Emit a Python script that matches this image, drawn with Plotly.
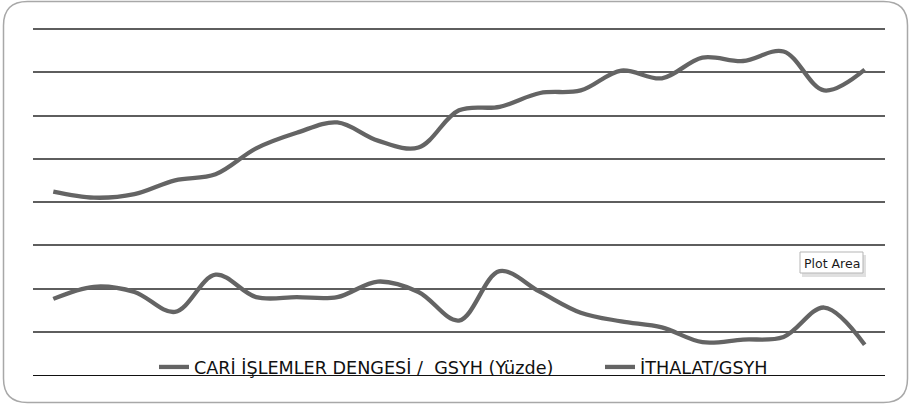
import plotly.graph_objects as go

years = [str(y) for y in range(1990, 2011)]
ithalat_gsyh = [11.2, 10.5, 10.9, 12.5, 13.2, 16.2, 18.0, 19.2, 17.1, 16.3, 20.6,
                21.0, 22.6, 22.9, 25.2, 24.3, 26.7, 26.3, 27.4, 22.9, 25.3]
cari_gsyh = [-1.2, 0.2, -0.4, -2.7, 1.6, -1.0, -1.0, -1.0, 0.8, -0.4, -3.7,
             2.0, -0.4, -2.8, -3.8, -4.5, -6.2, -5.9, -5.6, -2.2, -6.5]

W, H = 910, 406
ML, MR, MT, MB = 33, 25, 27, 31
PW, PH = W - ML - MR, H - MT - MB
Y_TOP = -10 + PH / 8.65  # keeps 5-unit grid spacing at ~43 px, top gridline inside the plot

def px(x, y):
    return (x - ML) / PW, (H - MB - y) / PH

LINE = "#646464"

fig = go.Figure()
fig.add_trace(go.Scatter(x=years, y=cari_gsyh, mode="lines",
                         name="CARİ İŞLEMLER DENGESİ /\u00a0 GSYH (Yüzde)", legend="legend",
                         line=dict(color=LINE, width=4.3, shape="spline", smoothing=1.0)))
fig.add_trace(go.Scatter(x=years, y=ithalat_gsyh, mode="lines",
                         name="İTHALAT/GSYH", legend="legend2",
                         line=dict(color=LINE, width=4.3, shape="spline", smoothing=1.0)))

# rounded outer frame
l, r, t, b, rad = 3.5, 907.5, 1.5, 402.5, 24
def P(x, y):
    a, c = px(x, y)
    return f"{a:.5f},{c:.5f}"
path = (f"M {P(l + rad, t)} L {P(r - rad, t)} Q {P(r, t)} {P(r, t + rad)} "
        f"L {P(r, b - rad)} Q {P(r, b)} {P(r - rad, b)} "
        f"L {P(l + rad, b)} Q {P(l, b)} {P(l, b - rad)} "
        f"L {P(l, t + rad)} Q {P(l, t)} {P(l + rad, t)} Z")
fig.add_shape(type="path", path=path, xref="paper", yref="paper",
              line=dict(color="#a8a8a8", width=1.5), layer="below")

# tooltip shadow + tooltip
x0, y0 = px(800, 252)
x1, y1 = px(863, 273)
sx0, sy0 = px(802, 255)
sx1, sy1 = px(866, 277)
fig.add_shape(type="rect", xref="paper", yref="paper", x0=sx0, y0=sy0, x1=sx1, y1=sy1,
              fillcolor="rgba(0,0,0,0.12)", line=dict(width=0))
fig.add_shape(type="rect", xref="paper", yref="paper", x0=x0, y0=y0, x1=x1, y1=y1,
              fillcolor="white", line=dict(color="#b5b5b5", width=1))
cx, cy = px(832, 263)
fig.add_annotation(x=cx, y=cy, xref="paper", yref="paper", text="Plot Area",
                   showarrow=False, font=dict(family="DejaVu Sans", size=12.5, color="#1a1a1a"),
                   xanchor="center", yanchor="middle")

legfont = dict(family="DejaVu Sans", size=17.6, color="#111111")
l1x, l1y = px(154, 367)
l2x, l2y = px(600, 367)
fig.update_layout(
    width=W, height=H,
    margin=dict(l=ML, r=MR, t=MT, b=MB, pad=0),
    paper_bgcolor="white", plot_bgcolor="white",
    showlegend=True,
    legend=dict(orientation="h", x=l1x, y=l1y, xanchor="left", yanchor="middle",
                bgcolor="rgba(0,0,0,0)", font=legfont, itemwidth=30),
    legend2=dict(orientation="h", x=l2x, y=l2y, xanchor="left", yanchor="middle",
                 bgcolor="rgba(0,0,0,0)", font=legfont, itemwidth=30),
    xaxis=dict(type="category", range=[-0.5, 20.5], showticklabels=False, showgrid=False,
               showline=True, linecolor="#111", linewidth=1, ticks="", zeroline=False,
               fixedrange=True),
    yaxis=dict(range=[-10, Y_TOP], dtick=5, tick0=0, showticklabels=False, showgrid=True,
               gridcolor="#5e5e5e", gridwidth=2, zeroline=False, showline=False, ticks="",
               fixedrange=True),
)
fig.write_html("out.html", config={"displayModeBar": False},
               post_script="document.body.style.margin='0';")
